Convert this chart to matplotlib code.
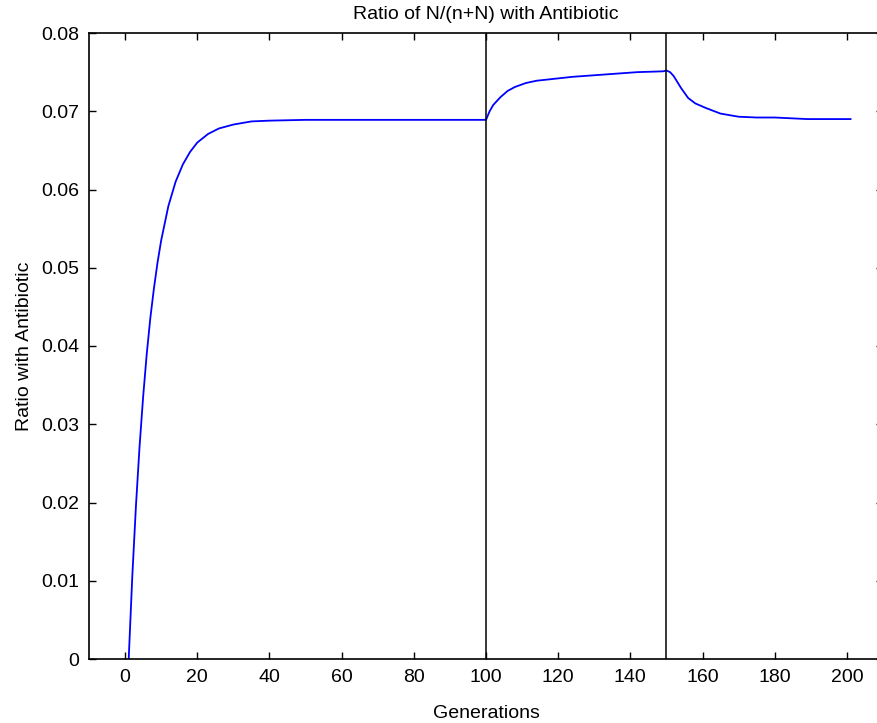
import matplotlib
matplotlib.use('Agg')
import matplotlib.pyplot as plt

# generations and ratio values
gen_rise = [1, 2, 3, 4, 5, 6, 7, 8, 9, 10, 12, 14, 16, 18, 20, 23, 26, 30, 35, 40, 50, 60, 70, 80, 90, 100]
ratio_rise = [0.0, 0.0106, 0.0195, 0.0271, 0.0335, 0.0390, 0.0436, 0.0474, 0.0507, 0.0535,
              0.0579, 0.0610, 0.0632, 0.0648, 0.0660, 0.0671, 0.0678, 0.0683, 0.0687, 0.0688,
              0.0689, 0.0689, 0.0689, 0.0689, 0.0689, 0.0689]
gen_mid = [101, 102, 104, 106, 108, 111, 114, 118, 124, 133, 142, 149, 150]
ratio_mid = [0.0700, 0.0708, 0.0718, 0.0726, 0.0731, 0.0736, 0.0739, 0.0741, 0.0744, 0.0747,
             0.0750, 0.0751, 0.0752]
gen_fall = [151, 152, 154, 156, 158, 161, 165, 170, 175, 180, 189, 195, 201]
ratio_fall = [0.0750, 0.0745, 0.0730, 0.0717, 0.0710, 0.0704, 0.0697, 0.0693, 0.0692, 0.0692,
              0.0690, 0.0690, 0.0690]
markers_x = [100, 150]

xticks = list(range(0, 201, 20))
yticks = [0, 0.01, 0.02, 0.03, 0.04, 0.05, 0.06, 0.07, 0.08]
ytick_labels = ['0', '0.01', '0.02', '0.03', '0.04', '0.05', '0.06', '0.07', '0.08']

plt.rcParams['font.family'] = ['Liberation Sans', 'DejaVu Sans']

gens = gen_rise + gen_mid + gen_fall
ratios = ratio_rise + ratio_mid + ratio_fall

fig = plt.figure(figsize=(8.78, 7.23), dpi=100)
ax = fig.add_axes([89 / 878, 1 - 659 / 723, 794 / 878, 626 / 723])
ax.plot(gens, ratios, color='#0000ff', linewidth=1.3)
for xv in markers_x:
    ax.axvline(xv, color='black', linewidth=1.1)

ax.set_xlim(-10, 210)
ax.set_ylim(0, 0.08)
ax.set_xticks(xticks)
ax.set_yticks(yticks)
ax.set_yticklabels(ytick_labels)
ax.tick_params(direction='in', length=5, width=1, top=True, right=True, labelsize=14, pad=7)
for s in ax.spines.values():
    s.set_linewidth(1.2)
# the right edge of the box falls just outside the image
ax.spines['right'].set_visible(False)

ax.set_title('Ratio of N/(n+N) with Antibiotic', fontsize=14, pad=10)
ax.set_xlabel('Generations', fontsize=14, labelpad=14)
ax.set_ylabel('Ratio with Antibiotic', fontsize=14, labelpad=6)

fig.savefig('out.png', dpi=100)
